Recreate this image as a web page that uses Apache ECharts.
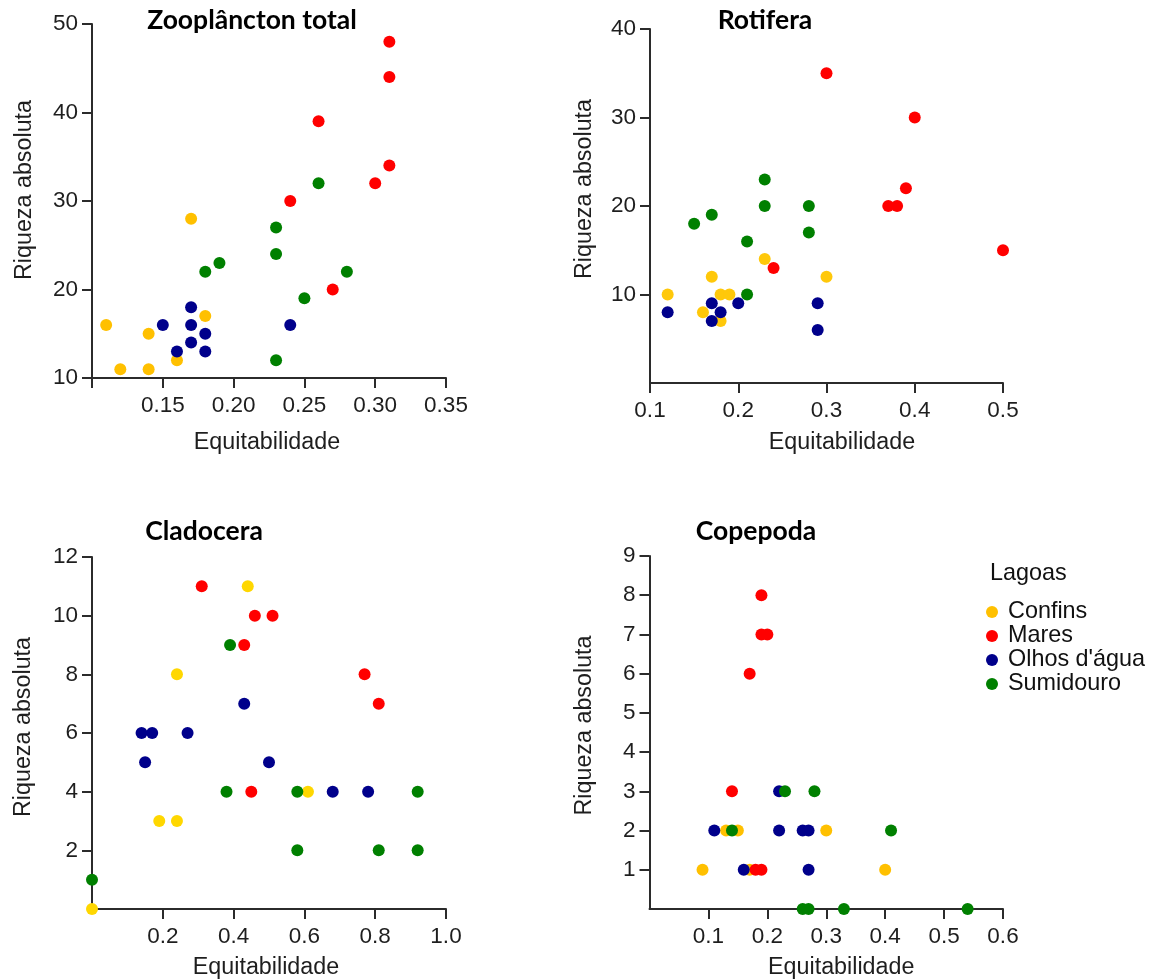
<!DOCTYPE html>
<html>
<head>
<meta charset="utf-8">
<title>Riqueza absoluta x Equitabilidade</title>
<script src="https://cdn.jsdelivr.net/npm/echarts@6/dist/echarts.min.js"></script>
<style>
  html, body { margin: 0; padding: 0; background: #fff; }
  #chart { width: 1153px; height: 980px; }
</style>
</head>
<body>
<div id="chart"></div>
<script>
// Lagoons (legend order)
const lagoas = ['Confins', 'Mares', "Olhos d'água", 'Sumidouro'];

// Zooplâncton total: [equitabilidade, riqueza]
const zooConfins    = [[0.11,16],[0.12,11],[0.14,15],[0.14,11],[0.16,12],[0.17,28],[0.18,17]];
const zooMares      = [[0.24,30],[0.26,39],[0.27,20],[0.30,32],[0.31,34],[0.31,44],[0.31,48]];
const zooOlhos      = [[0.15,16],[0.16,13],[0.17,18],[0.17,16],[0.17,14],[0.18,15],[0.18,13],[0.24,16]];
const zooSumidouro  = [[0.18,22],[0.19,23],[0.23,27],[0.23,24],[0.23,12],[0.25,19],[0.26,32],[0.28,22]];

// Rotifera
const rotConfins    = [[0.12,10],[0.16,8],[0.17,12],[0.18,10],[0.18,7],[0.19,10],[0.23,14],[0.30,12]];
const rotMares      = [[0.24,13],[0.30,35],[0.37,20],[0.38,20],[0.39,22],[0.40,30],[0.50,15]];
const rotOlhos      = [[0.12,8],[0.17,9],[0.17,7],[0.18,8],[0.20,9],[0.29,9],[0.29,6]];
const rotSumidouro  = [[0.15,18],[0.17,19],[0.21,16],[0.21,10],[0.23,23],[0.23,20],[0.28,20],[0.28,17]];

// Cladocera
const claConfins    = [[0.00,0],[0.19,3],[0.24,3],[0.24,8],[0.44,11],[0.61,4]];
const claMares      = [[0.31,11],[0.43,9],[0.45,4],[0.46,10],[0.51,10],[0.77,8],[0.81,7]];
const claOlhos      = [[0.14,6],[0.15,5],[0.17,6],[0.27,6],[0.43,7],[0.50,5],[0.68,4],[0.78,4]];
const claSumidouro  = [[0.00,1],[0.38,4],[0.39,9],[0.58,4],[0.58,2],[0.81,2],[0.92,4],[0.92,2]];

// Copepoda
const copConfins    = [[0.09,1],[0.13,2],[0.15,2],[0.17,1],[0.30,2],[0.40,1]];
const copMares      = [[0.14,3],[0.17,6],[0.18,1],[0.19,1],[0.19,7],[0.19,8],[0.20,7]];
const copOlhos      = [[0.11,2],[0.16,1],[0.22,3],[0.22,2],[0.26,2],[0.27,2],[0.27,1]];
const copSumidouro  = [[0.14,2],[0.23,3],[0.28,3],[0.41,2],[0.26,0],[0.27,0],[0.33,0],[0.54,0]];

// Axis ticks and labelled values
const zooXTicks = [0.10, 0.15, 0.20, 0.25, 0.30, 0.35];
const zooXLabels = [0.15, 0.20, 0.25, 0.30, 0.35];
const zooYTicks = [10, 20, 30, 40, 50];
const rotXTicks = [0.1, 0.2, 0.3, 0.4, 0.5];
const rotYTicks = [10, 20, 30, 40];
const claXTicks = [0.2, 0.4, 0.6, 0.8, 1.0];
const claYTicks = [2, 4, 6, 8, 10, 12];
const copXTicks = [0.1, 0.2, 0.3, 0.4, 0.5, 0.6];
const copYTicks = [1, 2, 3, 4, 5, 6, 7, 8, 9];

const panelTitles = ['Zooplâncton total', 'Rotifera', 'Cladocera', 'Copepoda'];
const xName = 'Equitabilidade';
const yName = 'Riqueza absoluta';

// Marker colours per panel, in legend order
const palettes = [
  ['#FFC000', '#FF0000', '#00008B', '#008000'],
  ['#FFC80A', '#FF0000', '#00008B', '#008000'],
  ['#FFD700', '#FF0000', '#00008B', '#008000'],
  ['#FFC000', '#FF0000', '#00008B', '#008000']
];

const panelData = [
  [zooConfins, zooMares, zooOlhos, zooSumidouro],
  [rotConfins, rotMares, rotOlhos, rotSumidouro],
  [claConfins, claMares, claOlhos, claSumidouro],
  [copConfins, copMares, copOlhos, copSumidouro]
];

const FONT = '"Liberation Sans", Arial, sans-serif';
const AXIS_COLOR = '#2b2b2b';
const LABEL_COLOR = '#1e1e1e';
const NAME_SIZE = 23.3;

const grids = [
  { left: 92,    top: 24,  width: 354,   height: 354 },
  { left: 650,   top: 29,  width: 353,   height: 354 },
  { left: 92,    top: 557, width: 354,   height: 352 },
  { left: 649.5, top: 556, width: 353.5, height: 354 }
];

function baseAxis(extra) {
  return Object.assign({
    type: 'value',
    splitLine: { show: false },
    axisLine: { show: true, onZero: false, lineStyle: { color: AXIS_COLOR, width: 2 } },
    nameLocation: 'middle'
  }, extra);
}

function nameStyle(padding) {
  return { fontFamily: FONT, fontSize: NAME_SIZE, color: LABEL_COLOR, padding: padding };
}

function ticks(values) {
  return { show: true, length: 10, customValues: values, lineStyle: { color: AXIS_COLOR, width: 2 } };
}

function labels(values, digits, margin) {
  return {
    show: true, customValues: values, margin: margin,
    fontFamily: FONT, fontSize: 22.5, color: LABEL_COLOR,
    formatter: v => digits == null ? String(v) : Number(v).toFixed(digits)
  };
}

const xAxes = [
  baseAxis({ gridIndex: 0, min: 0.10, max: 0.35, axisTick: ticks(zooXTicks), axisLabel: labels(zooXLabels, 2, 16),
    name: xName, nameGap: 53, nameTextStyle: nameStyle([0, 4, 0, 0]) }),
  baseAxis({ gridIndex: 1, min: 0.1, max: 0.5, axisTick: ticks(rotXTicks), axisLabel: labels(rotXTicks, 1, 16),
    name: xName, nameGap: 48, nameTextStyle: nameStyle([0, 0, 0, 31]) }),
  baseAxis({ gridIndex: 2, min: 0, max: 1.0, axisTick: ticks(claXTicks), axisLabel: labels(claXTicks, 1, 16),
    name: xName, nameGap: 47, nameTextStyle: nameStyle([0, 6, 0, 0]) }),
  baseAxis({ gridIndex: 3, min: 0, max: 0.6, axisTick: ticks(copXTicks), axisLabel: labels(copXTicks, 1, 16),
    name: xName, nameGap: 47, nameTextStyle: nameStyle([0, 0, 0, 30]) })
];

const yAxes = [
  baseAxis({ gridIndex: 0, min: 10, max: 50, axisTick: ticks(zooYTicks), axisLabel: labels(zooYTicks, null, 14),
    name: yName, nameGap: 56, nameTextStyle: nameStyle([0, 0, 0, 22]) }),
  baseAxis({ gridIndex: 1, min: 0, max: 40, axisTick: ticks(rotYTicks), axisLabel: labels(rotYTicks, null, 14),
    name: yName, nameGap: 54, nameTextStyle: nameStyle([0, 0, 0, 34]) }),
  baseAxis({ gridIndex: 2, min: 0, max: 12, axisTick: ticks(claYTicks), axisLabel: labels(claYTicks, null, 14),
    name: yName, nameGap: 57, nameTextStyle: nameStyle([0, 0, 0, 12]) }),
  baseAxis({ gridIndex: 3, min: 0, max: 9, axisTick: ticks(copYTicks), axisLabel: labels(copYTicks, null, 14),
    name: yName, nameGap: 53, nameTextStyle: nameStyle([0, 0, 0, 14]) })
];

const series = [];
panelData.forEach((groups, p) => {
  groups.forEach((pts, g) => {
    series.push({
      type: 'scatter',
      name: lagoas[g],
      xAxisIndex: p,
      yAxisIndex: p,
      data: pts,
      symbol: 'circle',
      symbolSize: 12,
      clip: false,
      itemStyle: { color: palettes[p][g], opacity: 1 },
      emphasis: { disabled: true }
    });
  });
});

const titleStyle = { fontFamily: 'Lato, "Open Sans", sans-serif', fontWeight: 'bold', fontSize: 26.5, color: '#000' };
const titleCenters = [[252, 7], [765, 7], [204, 518], [756, 518]];

const option = {
  animation: false,
  backgroundColor: '#ffffff',
  title: panelTitles.map((t, i) => ({
    text: t, left: titleCenters[i][0], top: titleCenters[i][1], textAlign: 'center', padding: 0,
    textStyle: titleStyle
  })).concat([{
    text: 'Lagoas', left: 990, top: 562, padding: 0,
    textStyle: { fontFamily: FONT, fontSize: 23.4, fontWeight: 'normal', color: '#111' }
  }]),
  legend: {
    data: lagoas,
    orient: 'vertical',
    left: 986,
    top: 600,
    padding: 0,
    itemWidth: 22,
    itemHeight: 12,
    itemGap: 0,
    icon: 'circle',
    textStyle: { fontFamily: FONT, fontSize: 23.4, lineHeight: 24, color: '#111' }
  },
  grid: grids.map(g => Object.assign({ containLabel: false }, g)),
  xAxis: xAxes,
  yAxis: yAxes,
  series: series
};

const chart = echarts.init(document.getElementById('chart'), null, { renderer: 'canvas' });
chart.setOption(option);
</script>
</body>
</html>
